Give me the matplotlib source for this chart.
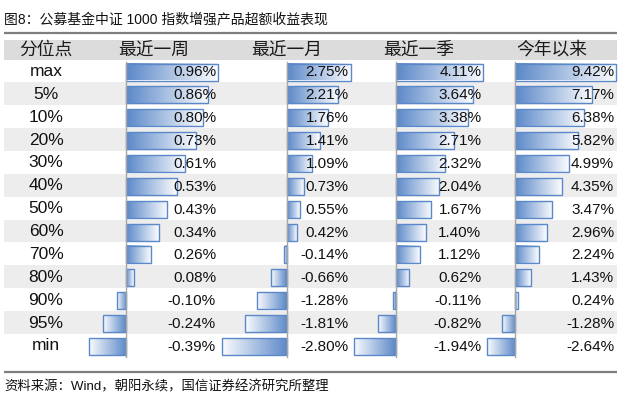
import numpy as np
import matplotlib
matplotlib.use("Agg")
import matplotlib.pyplot as plt
from matplotlib.patches import Rectangle
from matplotlib.colors import LinearSegmentedColormap

# table data (excess return, %)
row_labels = ['max', '5%', '10%', '20%', '30%', '40%', '50%', '60%', '70%', '80%', '90%', '95%', 'min']
col_headers = ['最近一周', '最近一月', '最近一季', '今年以来']
week = [0.96, 0.86, 0.80, 0.73, 0.61, 0.53, 0.43, 0.34, 0.26, 0.08, -0.10, -0.24, -0.39]
month = [2.75, 2.21, 1.76, 1.41, 1.09, 0.73, 0.55, 0.42, -0.14, -0.66, -1.28, -1.81, -2.80]
quarter = [4.11, 3.64, 3.38, 2.71, 2.32, 2.04, 1.67, 1.40, 1.12, 0.62, -0.11, -0.82, -1.94]
ytd = [9.42, 7.17, 6.38, 5.82, 4.99, 4.35, 3.47, 2.96, 2.24, 1.43, 0.24, -1.28, -2.64]
columns = [week, month, quarter, ytd]

title = '图8：公募基金中证 1000 指数增强产品超额收益表现'
source = '资料来源：Wind，朝阳永续，国信证券经济研究所整理'

LATIN = ['Liberation Sans', 'Noto Sans CJK SC']
CJK = ['Noto Sans CJK SC', 'DejaVu Sans']

# layout in pixels
x_left, x_right = 4, 617
head_top, head_h = 39.5, 20
row_h = 22.87
col_left0, col_step, bar_w = 89, 132.7, 129
bar_pad, bar_h = 4, 17
blue = '#5b88c8'

fig = plt.figure(figsize=(6.28, 4), dpi=100)
ax = fig.add_axes([0, 0, 1, 1])
ax.set_xlim(0, 628)
ax.set_ylim(400, 0)
ax.axis('off')

cmap_pos = LinearSegmentedColormap.from_list('pos', [blue, '#fbfcfe'])
grad = np.linspace(0, 1, 256).reshape(1, -1)

# title and rules
ax.text(x_left, 19.5, title, fontsize=10, family=LATIN, va='center', ha='left', color='#111111')
ax.plot([x_left, x_right], [32.7, 32.7], color='#7f7f7f', lw=1.6, solid_capstyle='butt')
ax.plot([x_left, x_right], [371.7, 371.7], color='#7f7f7f', lw=1.6, solid_capstyle='butt')
ax.text(x_left, 386.5, source, fontsize=9.6, family=LATIN, va='center', ha='left', color='#111111')

# header row
ax.add_patch(Rectangle((x_left, head_top), x_right - x_left, head_h, color='#dcdcdc', lw=0))
ax.text(46, head_top + head_h / 2, '分位点', fontsize=12.8, family=CJK, ha='center', va='center', color='#1a1a1a')
for j, h in enumerate(col_headers):
    cx = col_left0 + col_step * j + bar_w / 2
    ax.text(cx, head_top + head_h / 2, h, fontsize=12.8, family=CJK, ha='center', va='center', color='#1a1a1a')

rows_top = head_top + head_h
# row stripes and labels
for i, lab in enumerate(row_labels):
    y0 = rows_top + i * row_h
    if i % 2 == 1:
        ax.add_patch(Rectangle((x_left, y0), x_right - x_left, row_h, color='#ededed', lw=0))
    ax.text(46, y0 + row_h / 2 + 0.5, lab, fontsize=12.5, family=LATIN, ha='center', va='center', color='#111111')

# data bars
for j, vals in enumerate(columns):
    left = col_left0 + col_step * j
    vmin, vmax = min(min(vals), 0), max(max(vals), 0)
    scale = bar_w / (vmax - vmin)
    axis_x = left + (-vmin) * scale
    for i, v in enumerate(vals):
        y0 = rows_top + i * row_h + bar_pad
        x_end = axis_x + v * scale
        if v >= 0:
            ax.imshow(grad, extent=(axis_x, x_end, y0 + bar_h, y0), cmap=cmap_pos,
                      aspect='auto', interpolation='bilinear', zorder=2)
        else:
            ax.imshow(grad[:, ::-1], extent=(x_end, axis_x, y0 + bar_h, y0), cmap=cmap_pos,
                      aspect='auto', interpolation='bilinear', zorder=2)
        ax.add_patch(Rectangle((min(axis_x, x_end), y0), abs(v) * scale, bar_h,
                               fill=False, ec=blue, lw=1.0, zorder=3))
        ax.text(left + 127, y0 + bar_h / 2 + 0.5, f'{v:.2f}%', fontsize=11, family=LATIN,
                ha='right', va='center', color='#111111', zorder=4)
    ax.plot([axis_x, axis_x], [rows_top + 2, rows_top + 13 * row_h], color='#a6a6a6', lw=1.0, zorder=3)

ax.set_xlim(0, 628)
ax.set_ylim(400, 0)
fig.savefig('out.png', dpi=100)
